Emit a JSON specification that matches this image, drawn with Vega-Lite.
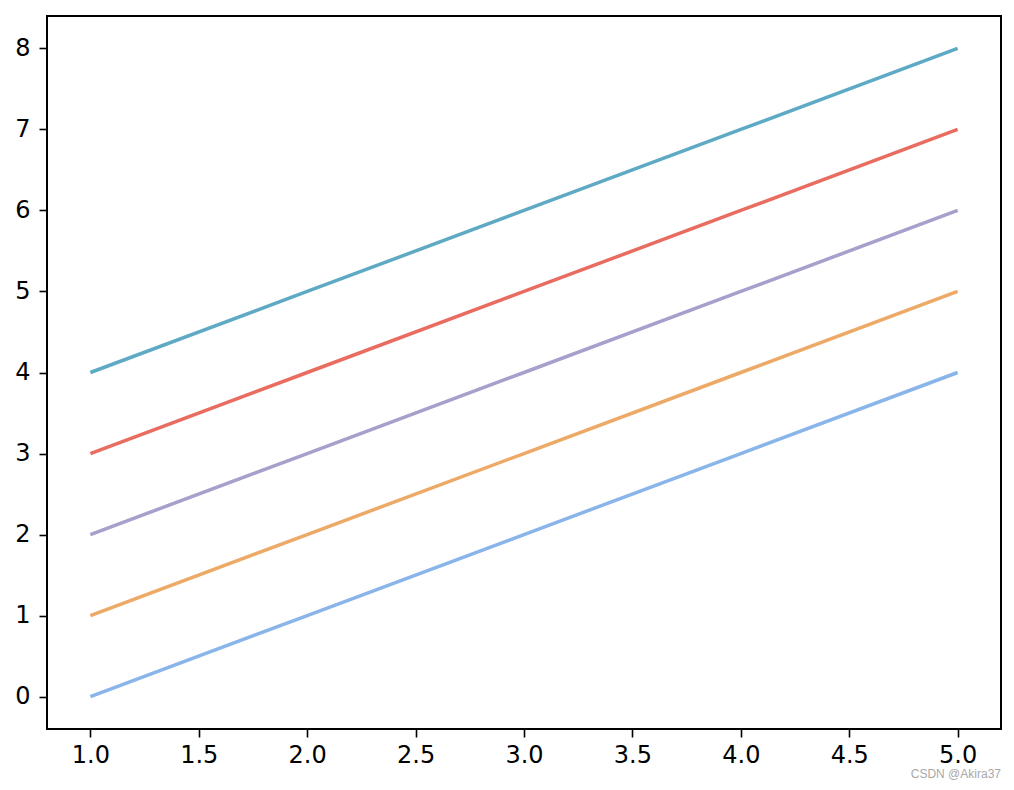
{
  "$schema": "https://vega.github.io/schema/vega-lite/v6.json",
  "width": 954,
  "height": 713,
  "autosize": {"type": "none"},
  "padding": {"left": 47, "top": 16, "right": 13, "bottom": 61},
  "background": "white",
  "config": {
    "view": {"stroke": "black", "strokeWidth": 2},
    "font": "DejaVu Sans",
    "axis": {
      "grid": false,
      "domain": false,
      "tickColor": "black",
      "tickWidth": 1.6,
      "tickSize": 8,
      "labelFont": "DejaVu Sans",
      "labelFontSize": 24,
      "labelColor": "black",
      "title": null
    },
    "axisX": {"labelPadding": 6},
    "axisY": {"labelPadding": 9}
  },
  "title": {
    "text": "CSDN @Akira37",
    "orient": "bottom",
    "anchor": "end",
    "fontSize": 12,
    "fontWeight": "normal",
    "font": "Liberation Sans",
    "color": "#a8a8a8",
    "offset": 2,
    "dx": 0
  },
  "data": {
    "values": [
      {"x": 1, "y": 0, "s": "a"}, {"x": 2, "y": 1, "s": "a"}, {"x": 3, "y": 2, "s": "a"}, {"x": 4, "y": 3, "s": "a"}, {"x": 5, "y": 4, "s": "a"},
      {"x": 1, "y": 1, "s": "b"}, {"x": 2, "y": 2, "s": "b"}, {"x": 3, "y": 3, "s": "b"}, {"x": 4, "y": 4, "s": "b"}, {"x": 5, "y": 5, "s": "b"},
      {"x": 1, "y": 2, "s": "c"}, {"x": 2, "y": 3, "s": "c"}, {"x": 3, "y": 4, "s": "c"}, {"x": 4, "y": 5, "s": "c"}, {"x": 5, "y": 6, "s": "c"},
      {"x": 1, "y": 3, "s": "d"}, {"x": 2, "y": 4, "s": "d"}, {"x": 3, "y": 5, "s": "d"}, {"x": 4, "y": 6, "s": "d"}, {"x": 5, "y": 7, "s": "d"},
      {"x": 1, "y": 4, "s": "e"}, {"x": 2, "y": 5, "s": "e"}, {"x": 3, "y": 6, "s": "e"}, {"x": 4, "y": 7, "s": "e"}, {"x": 5, "y": 8, "s": "e"}
    ]
  },
  "mark": {"type": "line", "strokeWidth": 3.5, "strokeCap": "butt"},
  "encoding": {
    "x": {
      "field": "x", "type": "quantitative",
      "scale": {"domain": [0.8, 5.2], "nice": false, "zero": false},
      "axis": {"values": [1, 1.5, 2, 2.5, 3, 3.5, 4, 4.5, 5], "format": ".1f"}
    },
    "y": {
      "field": "y", "type": "quantitative",
      "scale": {"domain": [-0.4, 8.4], "nice": false, "zero": false},
      "axis": {"values": [0, 1, 2, 3, 4, 5, 6, 7, 8], "format": "d"}
    },
    "color": {
      "field": "s", "type": "nominal", "legend": null,
      "scale": {"domain": ["a", "b", "c", "d", "e"], "range": ["#89b5ea", "#eda966", "#a6a0cc", "#e96c61", "#5eaac4"]}
    }
  }
}
